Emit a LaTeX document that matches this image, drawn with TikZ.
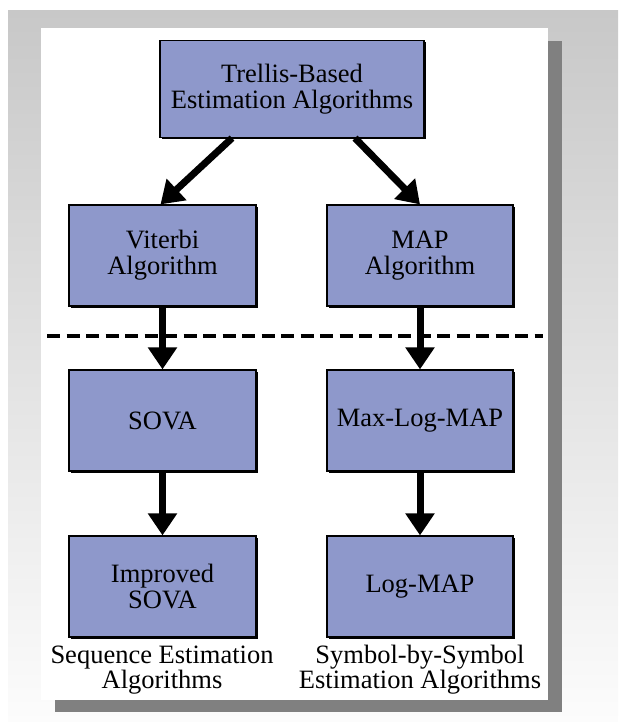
\documentclass[tikz,border=0pt]{standalone}
\usepackage{fontspec}
\setmainfont{Liberation Serif}
\usetikzlibrary{arrows.meta,shadows}

\definecolor{boxfill}{RGB}{142,152,203}
\definecolor{panelshadow}{RGB}{128,128,128}
\definecolor{bgtop}{RGB}{200,200,200}
\definecolor{bgbottom}{RGB}{252,252,252}

\tikzset{
  algbox/.style={draw=black, line width=1.2pt, fill=boxfill, align=center,
    inner sep=0pt, minimum width=187pt, minimum height=101pt,
    font=\fontsize{26.5}{26}\selectfont,
    drop shadow={shadow xshift=1.6pt, shadow yshift=-1.6pt, fill=black, opacity=1}},
  grouplabel/.style={align=center, inner sep=0pt, font=\fontsize{26.5}{25}\selectfont},
  flow/.style={line width=7pt, -{Triangle[width=28pt,length=22pt]}},
  divider/.style={line width=4pt, dash pattern=on 13pt off 6.5pt}
}

\begin{document}
\begin{tikzpicture}[x=1pt,y=-1pt]
  \useasboundingbox (0,0) rectangle (618,722);

  % page background with a soft vertical gradient
  \fill[white] (0,0) rectangle (618,722);
  \shade[top color=bgtop, bottom color=bgbottom] (8,11) rectangle (618,722);

  % white panel and its shadow
  \fill[panelshadow] (55,41) rectangle (562,712);
  \fill[white] (41,28) rectangle (548,700);

  % algorithm boxes
  \node[algbox, minimum width=264pt, minimum height=97pt] (trellis) at (292,89)
    {Trellis-Based\\Estimation Algorithms};
  \node[algbox] (viterbi) at (162.5,255.5) {Viterbi\\Algorithm};
  \node[algbox, minimum width=186pt] (map) at (420,255.5) {MAP\\Algorithm};
  \node[algbox] (sova) at (162.5,420.5) {SOVA};
  \node[algbox, minimum width=186pt] (maxlog) at (420,420.5) {Max-Log-MAP};
  \node[algbox] (isova) at (162.5,586.5) {Improved\\SOVA};
  \node[algbox, minimum width=186pt] (logmap) at (420,586.5) {Log-MAP};

  % group captions
  \node[grouplabel] (seqlabel) at (162,670) {Sequence Estimation\\Algorithms};
  \node[grouplabel] (symlabel) at (420,670) {Symbol-by-Symbol\\Estimation Algorithms};

  % connectors
  \draw[flow] ([xshift=-60pt]trellis.south) -- ([xshift=-2pt]viterbi.north);
  \draw[flow] ([xshift=63pt]trellis.south) -- (map.north);
  \draw[flow] (viterbi.south) -- (sova.north);
  \draw[flow] (map.south) -- (maxlog.north);
  \draw[flow] (sova.south) -- (isova.north);
  \draw[flow] (maxlog.south) -- (logmap.north);

  % dashed separator
  \coordinate (divl) at (47,336);
  \coordinate (divr) at (543,336);
  \draw[divider] (divl) -- (divr);
\end{tikzpicture}
\end{document}
